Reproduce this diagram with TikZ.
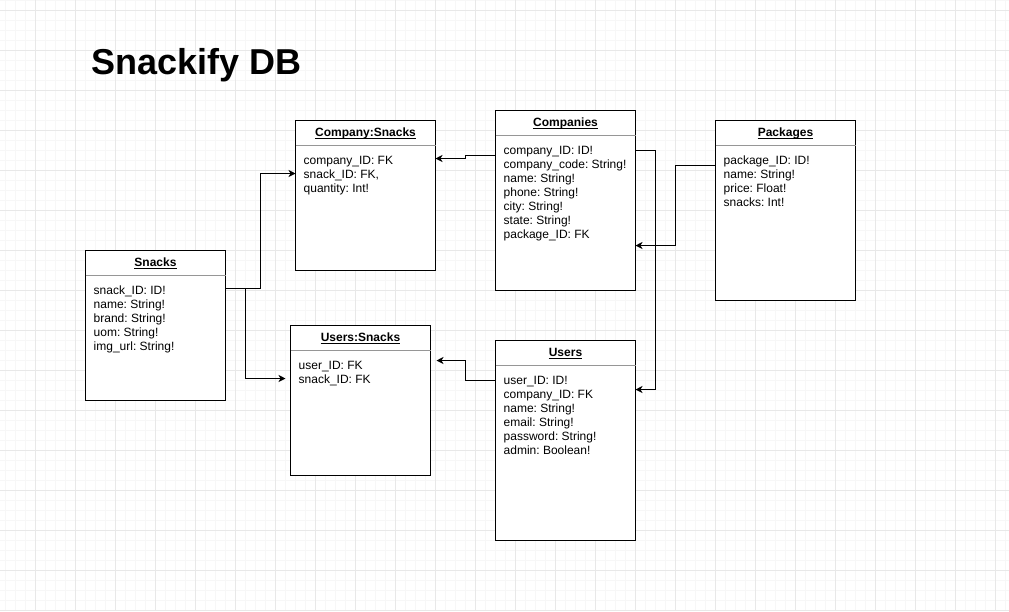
\documentclass[tikz,border=0pt]{standalone}
\usepackage{fontspec}
\setmainfont{Liberation Sans}
\usetikzlibrary{calc,arrows.meta}
\definecolor{gridmajor}{RGB}{232,232,232}
\definecolor{gridminor}{RGB}{247,247,247}
\definecolor{sepgray}{RGB}{150,150,150}
\frenchspacing
\tikzset{
  minorgrid/.style={draw=gridminor, line width=1pt},
  majorgrid/.style={draw=gridmajor, line width=1pt},
  entity/.style={draw=black, fill=white, line width=1pt, inner sep=0pt, outer sep=0pt, rectangle},
  sepline/.style={draw=sepgray, line width=1pt},
  enttitle/.style={anchor=base, inner sep=0pt, font=\fontsize{12}{14}\selectfont\bfseries},
  ulline/.style={draw=black, line width=0.9pt},
  entrow/.style={anchor=base west, inner sep=0pt, font=\fontsize{12}{14}\selectfont\frenchspacing},
  conn/.style={draw=black, line width=1pt, -{Stealth[length=7pt,width=7pt,inset=2pt]}},
  maintitle/.style={anchor=base west, inner sep=0pt, font=\fontsize{36}{43}\selectfont\bfseries}
}
\newcommand{\erentity}[7]{%
  \node[entity, minimum width=#4pt, minimum height=#5pt, anchor=north west] (#1) at (#2,#3) {};
  \draw[sepline] ($(#1.north west)+(0,25)$) -- ($(#1.north east)+(0,25)$);
  \node[enttitle] (#1-t) at ($(#1.north)+(0,16)$) {#6};
  \draw[ulline] ($(#1-t.base west)+(0,1.5)$) -- ($(#1-t.base east)+(0,1.5)$);
  \foreach \r [count=\i] in {#7} {\node[entrow] (#1-r\i) at ($(#1.north west)+(8,{44+14*(\i-1)})$) {\r};}
}
\begin{document}
\begin{tikzpicture}[x=1pt,y=-1pt]
\useasboundingbox (0,0) rectangle (1009,611);
\fill[white] (0,0) rectangle (1009,611);
% grid
\foreach \x in {5,15,...,1005} {\draw[minorgrid] (\x,0) -- (\x,611);}
\foreach \y in {0,10,...,610} {\draw[minorgrid] (0,\y) -- (1009,\y);}
\foreach \x in {35,75,...,995} {\draw[majorgrid] (\x,0) -- (\x,611);}
\foreach \y in {10,50,...,610} {\draw[majorgrid] (0,\y) -- (1009,\y);}
% title
\node[maintitle] (title) at (91,74) {Snackify DB};
% entities
\erentity{cs}{295.5}{120.5}{140}{150}{Company:Snacks}{company\_ID: FK, {snack\_ID: FK,}, quantity: Int!}
\erentity{co}{495.5}{110.5}{140}{180}{Companies}{company\_ID: ID!, company\_code: String!, name: String!, phone: String!, city: String!, state: String!, package\_ID: FK}
\erentity{pk}{715.5}{120.5}{140}{180}{Packages}{package\_ID: ID!, name: String!, price: Float!, snacks: Int!}
\erentity{sn}{85.5}{250.5}{140}{150}{Snacks}{snack\_ID: ID!, name: String!, brand: String!, uom: String!, img\_url: String!}
\erentity{usn}{290.5}{325.5}{140}{150}{Users:Snacks}{user\_ID: FK, snack\_ID: FK}
\erentity{u}{495.5}{340.5}{140}{200}{Users}{user\_ID: ID!, company\_ID: FK, name: String!, email: String!, password: String!, admin: Boolean!}
% connectors
\draw[conn] ($(sn.north east)+(0,38)$) -| ($(cs.north west)+(-35,53)$) -- ($(cs.north west)+(0,53)$);
\draw[conn] ($(sn.north east)+(0,38)$) -| ($(usn.north west)+(-45,53)$) -- ($(usn.north west)+(-5,53)$);
\draw[conn] ($(co.north west)+(0,45)$) -- ++(-30,0) |- ($(cs.north east)+(0,38)$);
\draw[conn] ($(u.north west)+(0,40)$) -- ++(-30,0) |- ($(usn.north east)+(6,35)$);
\draw[conn] ($(co.north east)+(0,40)$) -- ++(20,0) |- ($(u.north east)+(0,49)$);
\draw[conn] ($(pk.north west)+(0,45)$) -- ++(-40,0) |- ($(co.north east)+(0,135)$);
\end{tikzpicture}
\end{document}
